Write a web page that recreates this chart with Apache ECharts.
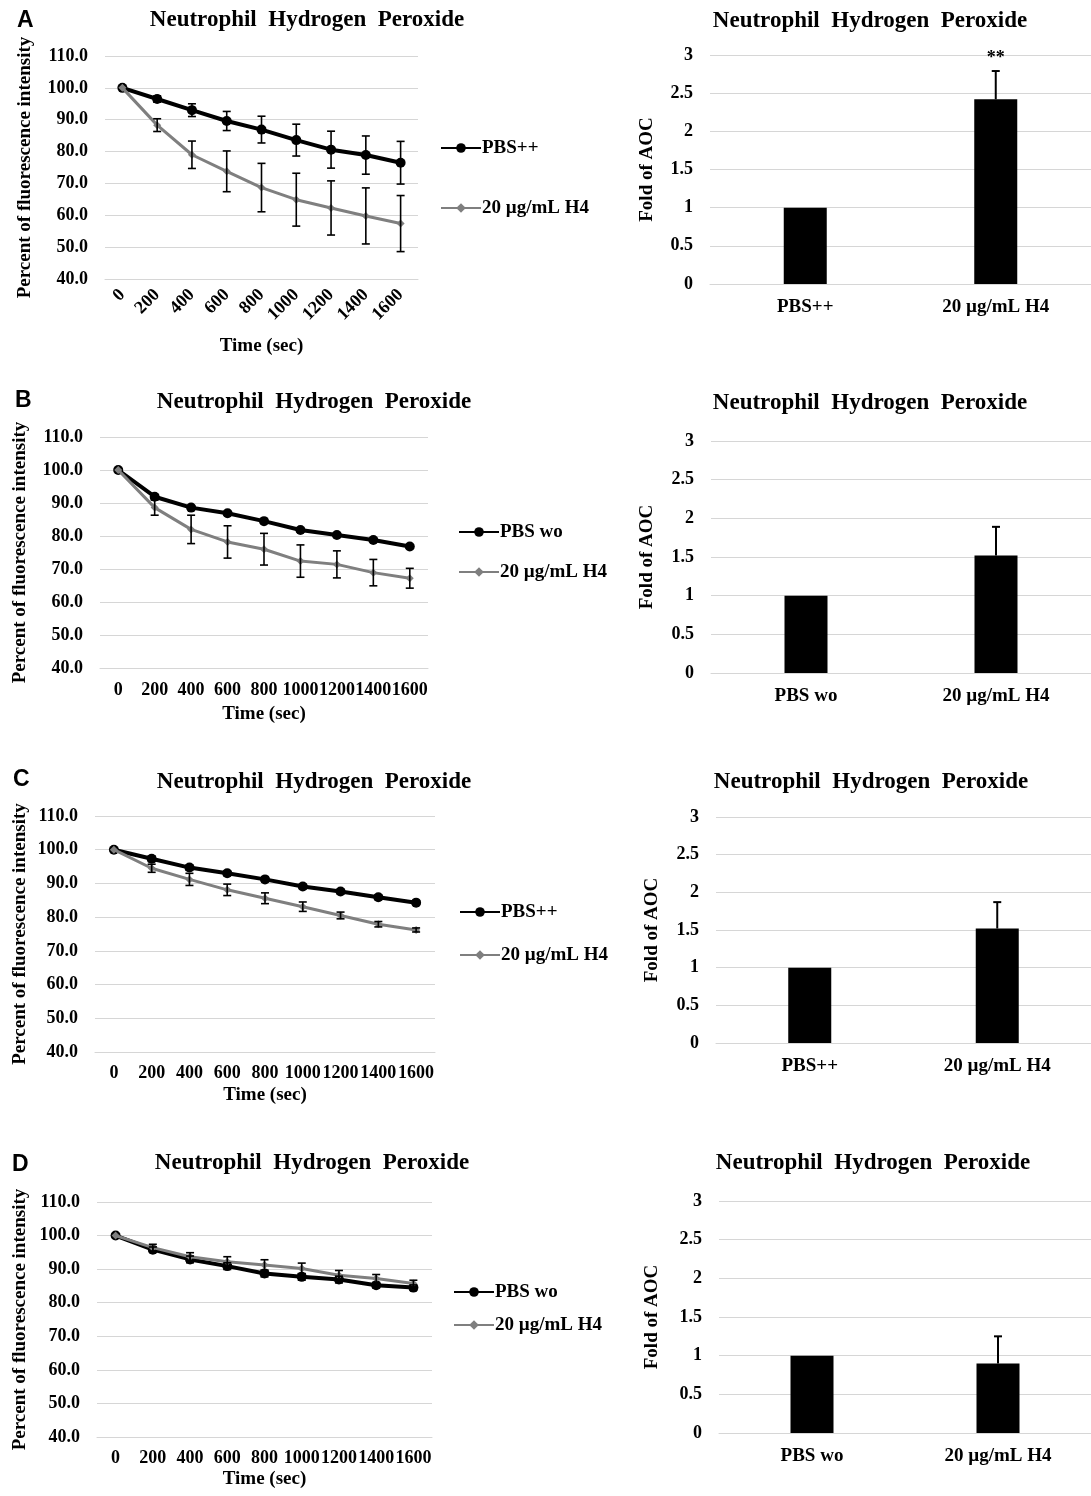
<!DOCTYPE html>
<html>
<head>
<meta charset="utf-8">
<script src="https://cdn.jsdelivr.net/npm/echarts@6.0.0/dist/echarts.min.js"></script>
<style>
html,body{margin:0;padding:0;background:#fff;}
#chart{width:1091px;height:1496px;}
</style>
</head>
<body>
<div id="chart"></div>
<script>
// ---------------- DATA ----------------
const times = ['0','200','400','600','800','1000','1200','1400','1600'];
const yTicks = [40, 110, 10];
const barTicks = [0, 3, 0.5];

// Panel A
const A_pbsName = 'PBS++';
const A_pbs = [100, 96.5, 93.0, 89.6, 86.9, 83.6, 80.6, 78.9, 76.5];
const A_pbsErr = [0, 1.0, 2.0, 3.0, 4.2, 5.0, 5.8, 6.0, 6.7];
const A_h4 = [100, 88.3, 79.0, 73.8, 68.7, 64.9, 62.3, 59.8, 57.4];
const A_h4Err = [0, 2.0, 4.3, 6.4, 7.6, 8.3, 8.5, 8.8, 8.8];
const A_barCats = ['PBS++', '20 µg/mL H4'];
const A_bar = [1, 2.42];
const A_barErr = [0, 0.37];
const A_barSig = ['', '**'];

// Panel B
const B_pbsName = 'PBS wo';
const B_pbs = [100, 91.9, 88.6, 86.9, 84.5, 81.8, 80.3, 78.8, 76.8];
const B_pbsErr = [0, 0.6, 0.6, 0.5, 0.5, 0.6, 0.5, 0.5, 0.5];
const B_h4 = [100, 88.6, 82.0, 78.2, 76.0, 72.4, 71.4, 68.9, 67.2];
const B_h4Err = [0, 2.3, 4.3, 4.9, 4.8, 4.9, 4.1, 4.0, 3.0];
const B_barCats = ['PBS wo', '20 µg/mL H4'];
const B_bar = [1, 1.52];
const B_barErr = [0, 0.37];
const B_barSig = ['', ''];

// Panel C
const C_pbsName = 'PBS++';
const C_pbs = [100, 97.3, 94.7, 93.0, 91.2, 89.1, 87.6, 85.9, 84.3];
const C_pbsErr = [0, 0.8, 0.8, 0.7, 0.7, 0.7, 0.7, 0.7, 0.6];
const C_h4 = [100, 94.5, 91.2, 88.1, 85.6, 83.1, 80.5, 77.9, 76.2];
const C_h4Err = [0, 1.2, 1.8, 1.7, 1.6, 1.4, 1.0, 0.8, 0.6];
const C_barCats = ['PBS++', '20 µg/mL H4'];
const C_bar = [1, 1.52];
const C_barErr = [0, 0.35];
const C_barSig = ['', ''];

// Panel D
const D_pbsName = 'PBS wo';
const D_pbs = [100, 95.8, 92.9, 90.9, 88.7, 87.7, 86.9, 85.2, 84.5];
const D_pbsErr = [0, 0.8, 1.0, 1.0, 1.0, 1.0, 1.0, 0.8, 0.8];
const D_h4 = [100, 96.4, 93.7, 92.2, 91.2, 90.2, 88.2, 87.2, 85.7];
const D_h4Err = [0, 1.0, 1.2, 1.5, 1.6, 1.6, 1.4, 1.2, 1.0];
const D_barCats = ['PBS wo', '20 µg/mL H4'];
const D_bar = [1, 0.90];
const D_barErr = [0, 0.35];
const D_barSig = ['', ''];

const h4Name = '20 µg/mL H4';
const titleText = 'Neutrophil  Hydrogen  Peroxide';
const lineYName = 'Percent of fluorescence intensity';
const lineXName = 'Time (sec)';
const barYName = 'Fold of AOC';
const panelLetters = ['A', 'B', 'C', 'D'];

// ---------------- STYLE / LAYOUT ----------------
const SERIF = 'Liberation Serif';
const GRIDC = '#d6d6d6';
const GRAY = '#7f7f7f';

const panels = [
  { letter: panelLetters[0], pbsName: A_pbsName, pbs: A_pbs, pbsErr: A_pbsErr, h4: A_h4, h4Err: A_h4Err,
    barCats: A_barCats, bar: A_bar, barErr: A_barErr, barSig: A_barSig,
    lg: { left: 105, top: 56, width: 313, height: 223 }, rot: 45, xMargin: 13, xGap: 58, yGap: 70,
    bg: { left: 710, top: 55, width: 390, height: 229 }, byGap: 53,
    lt: [307, 20], bt: [870, 21], letterPos: [17, 21], leg: [440, 148, 208] },
  { letter: panelLetters[1], pbsName: B_pbsName, pbs: B_pbs, pbsErr: B_pbsErr, h4: B_h4, h4Err: B_h4Err,
    barCats: B_barCats, bar: B_bar, barErr: B_barErr, barSig: B_barSig,
    lg: { left: 100, top: 437, width: 328, height: 231 }, rot: 0, xMargin: 13, xGap: 37, yGap: 70,
    bg: { left: 711, top: 441, width: 390, height: 232 }, byGap: 54,
    lt: [314, 402], bt: [870, 403], letterPos: [15, 401], leg: [458, 532, 572] },
  { letter: panelLetters[2], pbsName: C_pbsName, pbs: C_pbs, pbsErr: C_pbsErr, h4: C_h4, h4Err: C_h4Err,
    barCats: C_barCats, bar: C_bar, barErr: C_barErr, barSig: C_barSig,
    lg: { left: 95, top: 816, width: 340, height: 236 }, rot: 0, xMargin: 12, xGap: 34, yGap: 65,
    bg: { left: 716, top: 817, width: 382, height: 226 }, byGap: 54,
    lt: [314, 782], bt: [871, 782], letterPos: [13, 780], leg: [459, 912, 955] },
  { letter: panelLetters[3], pbsName: D_pbsName, pbs: D_pbs, pbsErr: D_pbsErr, h4: D_h4, h4Err: D_h4Err,
    barCats: D_barCats, bar: D_bar, barErr: D_barErr, barSig: D_barSig,
    lg: { left: 97, top: 1202, width: 335, height: 235 }, rot: 0, xMargin: 12, xGap: 33, yGap: 67,
    bg: { left: 719, top: 1201, width: 384, height: 232 }, byGap: 57,
    lt: [312, 1163], bt: [873, 1163], letterPos: [12, 1165], leg: [453, 1292, 1325] }
];

function lineErrRender(params, api) {
  const x = api.value(0), y = api.value(1), e = api.value(2);
  if (!e) return null;
  const t = api.coord([x, y + e]);
  const b = api.coord([x, y - e]);
  const w = 4;
  const st = { stroke: '#000', lineWidth: 1.6 };
  return { type: 'group', children: [
    { type: 'line', shape: { x1: t[0], y1: t[1], x2: b[0], y2: b[1] }, style: st },
    { type: 'line', shape: { x1: t[0] - w, y1: t[1], x2: t[0] + w, y2: t[1] }, style: st },
    { type: 'line', shape: { x1: b[0] - w, y1: b[1], x2: b[0] + w, y2: b[1] }, style: st }
  ]};
}

function barErrRender(sigArr) {
  return function (params, api) {
    const x = api.value(0), y = api.value(1), e = api.value(2);
    const children = [];
    const t = api.coord([x, y + e]);
    const b = api.coord([x, y]);
    const st = { stroke: '#000', lineWidth: 2 };
    if (e) {
      children.push({ type: 'line', shape: { x1: t[0], y1: t[1], x2: b[0], y2: b[1] }, style: st });
      children.push({ type: 'line', shape: { x1: t[0] - 4, y1: t[1], x2: t[0] + 4, y2: t[1] }, style: st });
    }
    const sig = sigArr[params.dataIndex];
    if (sig) {
      children.push({ type: 'text', style: { text: sig, x: t[0], y: t[1] - 4, textAlign: 'center', textVerticalAlign: 'bottom',
        font: 'bold 18px "' + SERIF + '"', fill: '#000' } });
    }
    return { type: 'group', children: children };
  };
}

const grid = [], xAxis = [], yAxis = [], series = [], legend = [], graphic = [];
const axisNameStyle = { fontFamily: SERIF, fontWeight: 'bold', fontSize: 19, color: '#000' };
const tickStyle = { fontFamily: SERIF, fontWeight: 'bold', fontSize: 18, color: '#000' };

panels.forEach((p, k) => {
  const gl = grid.length;
  grid.push(Object.assign({ containLabel: false }, p.lg));
  grid.push(Object.assign({ containLabel: false }, p.bg));
  // line chart axes
  xAxis.push({ type: 'category', gridIndex: gl, data: times, boundaryGap: true,
    axisLine: { lineStyle: { color: GRIDC, width: 1 } }, axisTick: { show: false },
    axisLabel: Object.assign({ interval: 0, rotate: p.rot, margin: p.xMargin }, tickStyle),
    name: lineXName, nameLocation: 'middle', nameGap: p.xGap, nameTextStyle: axisNameStyle });
  yAxis.push({ type: 'value', gridIndex: gl, min: yTicks[0], max: yTicks[1], interval: yTicks[2],
    axisLine: { show: false }, axisTick: { show: false },
    axisLabel: Object.assign({ margin: 17, formatter: v => v.toFixed(1) }, tickStyle),
    splitLine: { lineStyle: { color: GRIDC, width: 1 } },
    name: lineYName, nameLocation: 'middle', nameRotate: 90, nameGap: p.yGap, nameTextStyle: axisNameStyle });
  // bar chart axes
  xAxis.push({ type: 'category', gridIndex: gl + 1, data: p.barCats,
    axisLine: { lineStyle: { color: GRIDC, width: 1 } }, axisTick: { show: false },
    axisLabel: Object.assign({ interval: 0, margin: 14 }, tickStyle, { fontSize: 19 }) });
  yAxis.push({ type: 'value', gridIndex: gl + 1, min: barTicks[0], max: barTicks[1], interval: barTicks[2],
    axisLine: { show: false }, axisTick: { show: false },
    axisLabel: Object.assign({ margin: 17 }, tickStyle),
    splitLine: { lineStyle: { color: GRIDC, width: 1 } },
    name: barYName, nameLocation: 'middle', nameRotate: 90, nameGap: p.byGap, nameTextStyle: axisNameStyle });

  series.push({ type: 'line', name: p.pbsName, xAxisIndex: gl, yAxisIndex: gl, data: p.pbs,
    symbol: 'circle', symbolSize: 10, lineStyle: { color: '#000', width: 4 }, itemStyle: { color: '#000' }, z: 2 });
  series.push({ type: 'line', name: h4Name, xAxisIndex: gl, yAxisIndex: gl, data: p.h4,
    symbol: 'diamond', symbolSize: 8, lineStyle: { color: GRAY, width: 3 }, itemStyle: { color: GRAY }, z: 3 });
  series.push({ type: 'custom', xAxisIndex: gl, yAxisIndex: gl, renderItem: lineErrRender,
    data: times.map((t, i) => [i, p.pbs[i], p.pbsErr[i]]), encode: { x: 0, y: 1 }, z: 4 });
  series.push({ type: 'custom', xAxisIndex: gl, yAxisIndex: gl, renderItem: lineErrRender,
    data: times.map((t, i) => [i, p.h4[i], p.h4Err[i]]), encode: { x: 0, y: 1 }, z: 4 });

  series.push({ type: 'bar', xAxisIndex: gl + 1, yAxisIndex: gl + 1, data: p.bar, barWidth: 43,
    itemStyle: { color: '#000' } });
  series.push({ type: 'custom', xAxisIndex: gl + 1, yAxisIndex: gl + 1, renderItem: barErrRender(p.barSig),
    data: p.barCats.map((c, i) => [i, p.bar[i], p.barErr[i]]), encode: { x: 0, y: 1 }, z: 5 });

  // legends (one item each, positioned like the original)
  [[p.pbsName, p.leg[1]], [h4Name, p.leg[2]]].forEach(([nm, cy]) => {
    legend.push({ data: [nm], left: p.leg[0], top: cy - 10, padding: 0, itemWidth: 40, itemHeight: 12,
      selectedMode: false, textStyle: { fontFamily: SERIF, fontWeight: 'bold', fontSize: 19, color: '#000',
        lineHeight: 20, padding: [0, 0, 0, -4] } });
  });

  // titles and panel letters
  graphic.push({ type: 'text', x: p.lt[0], y: p.lt[1], style: { text: titleText, textAlign: 'center',
    textVerticalAlign: 'middle', font: 'bold 23px "' + SERIF + '"', fill: '#000' } });
  graphic.push({ type: 'text', x: p.bt[0], y: p.bt[1], style: { text: titleText, textAlign: 'center',
    textVerticalAlign: 'middle', font: 'bold 23px "' + SERIF + '"', fill: '#000' } });
  graphic.push({ type: 'text', x: p.letterPos[0], y: p.letterPos[1], style: { text: p.letter, textAlign: 'left',
    textVerticalAlign: 'middle', font: 'bold 23px "Liberation Sans"', fill: '#000' } });
});

const chart = echarts.init(document.getElementById('chart'), null, { renderer: 'canvas' });
chart.setOption({
  backgroundColor: '#fff',
  animation: false,
  grid, xAxis, yAxis, series, legend, graphic
});
</script>
</body>
</html>
